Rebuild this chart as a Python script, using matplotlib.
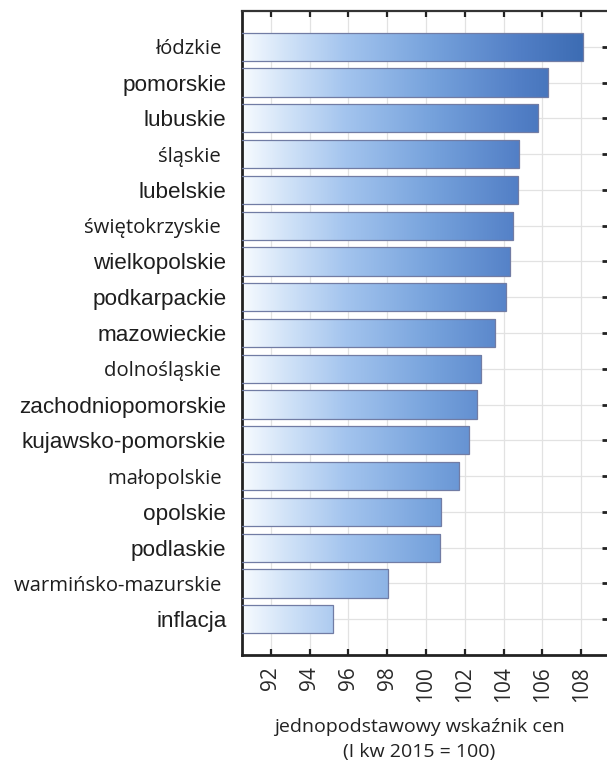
import numpy as np
import matplotlib
matplotlib.use("Agg")
import matplotlib.pyplot as plt
from matplotlib.colors import LinearSegmentedColormap

# Regions ordered from highest to lowest price index
regions = [
    "łódzkie ", "pomorskie", "lubuskie", "śląskie ", "lubelskie",
    "świętokrzyskie ", "wielkopolskie", "podkarpackie", "mazowieckie",
    "dolnośląskie ", "zachodniopomorskie", "kujawsko-pomorskie",
    "małopolskie ", "opolskie", "podlaskie", "warmińsko-mazurskie ",
    "inflacja",
]
values = [108.07, 106.29, 105.79, 104.78, 104.72, 104.48, 104.31, 104.10,
          103.56, 102.83, 102.63, 102.22, 101.70, 100.79, 100.72, 98.03, 95.23]
# labels typeset in the lighter humanist face
light_labels = {"łódzkie ", "śląskie ", "świętokrzyskie ", "dolnośląskie ",
                "małopolskie ", "warmińsko-mazurskie "}
xticks = [92, 94, 96, 98, 100, 102, 104, 106, 108]
xlabel_lines = ["jednopodstawowy wskaźnik cen", "(I kw 2015 = 100)"]

W, H = 607, 772
fig = plt.figure(figsize=(W / 100, H / 100), dpi=100)
ax_left, ax_right, ax_top, ax_bottom = 241.7, 609.0, 11.0, 655.0
ax = fig.add_axes([ax_left / W, 1 - ax_bottom / H,
                   (ax_right - ax_left) / W, (ax_bottom - ax_top) / H])

xmin, xmax = 90.5, 109.43
n = len(regions)

# horizontal white-to-blue gradient fixed to the value axis
cmap = LinearSegmentedColormap.from_list(
    "bluegrad",
    [(0.0, "#f7fbff"), (0.12, "#d3e4f8"), (0.3, "#a3c4ee"),
     (0.55, "#76a2dc"), (0.8, "#527fc6"), (1.0, "#3b6bb2")])
grad = np.linspace(0, 1, 512).reshape(1, -1)

ypos = np.arange(n)
bar_h = 0.79
bars = ax.barh(ypos, values, height=bar_h, left=0, facecolor="none",
               edgecolor="#717ca4", linewidth=0.9, zorder=3)
for b in bars:
    y0 = b.get_y()
    im = ax.imshow(grad, extent=[xmin, 108.3, y0 + bar_h, y0], cmap=cmap,
                   aspect="auto", interpolation="bilinear", zorder=2)
    im.set_clip_path(b)
ax.set_xlim(xmin, xmax)
ax.set_ylim(n - 1 + 1.0, -1.0)

# grid
ax.set_xticks(xticks)
ax.set_yticks(ypos)
ax.grid(True, color="#e2e2e2", linewidth=0.9, zorder=0)
ax.set_axisbelow(True)

# tick labels
ax.set_xticklabels([str(t) for t in xticks], rotation=90,
                   fontfamily="Open Sans", fontsize=15, color="#2a2a2a")
ax.set_yticklabels(regions, fontsize=16.2, color="#1e1e1e")
for lab in ax.get_yticklabels():
    if lab.get_text() in light_labels:
        lab.set_fontfamily("Open Sans")
        lab.set_fontsize(14.6)
    else:
        lab.set_fontfamily("Liberation Sans")

ax.tick_params(axis="x", which="both", direction="in", length=4, width=1.6,
               top=True, bottom=True, pad=8, color="#222222")
ax.tick_params(axis="y", which="both", direction="in", length=5, width=2,
               left=True, right=True, pad=11, color="#222222")

for side in ["left", "bottom"]:
    ax.spines[side].set_linewidth(2.0)
    ax.spines[side].set_color("#222222")
ax.spines["top"].set_linewidth(1.6)
ax.spines["top"].set_color("#333333")
ax.spines["right"].set_linewidth(1.6)

# two-line axis title
fig.text(419 / W, 1 - 731.5 / H, xlabel_lines[0], ha="center", va="baseline",
         fontfamily="Open Sans", fontsize=14, color="#222222")
fig.text(419 / W, 1 - 757.5 / H, xlabel_lines[1], ha="center", va="baseline",
         fontfamily="Open Sans", fontsize=14, color="#222222")

fig.savefig("out.png", dpi=100, facecolor="white")
